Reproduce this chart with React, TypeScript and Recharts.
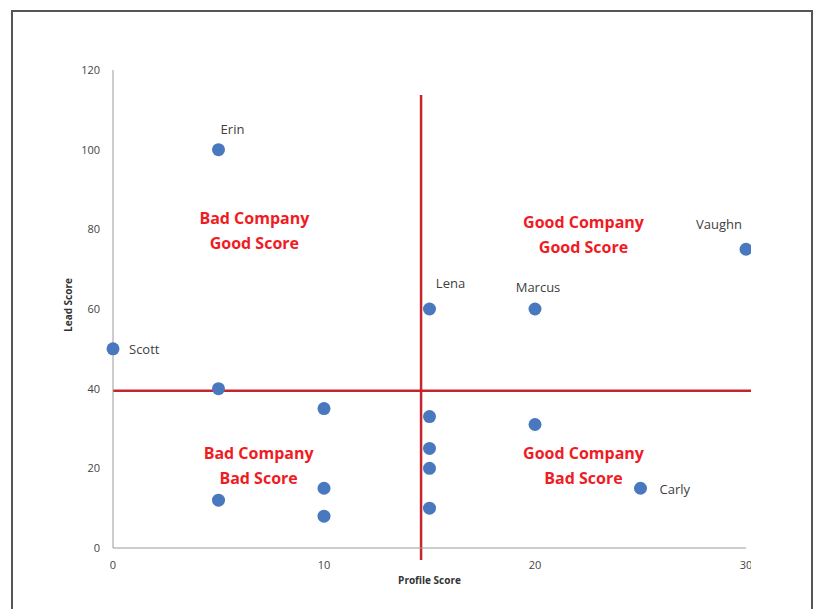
import {
  ScatterChart,
  Scatter,
  XAxis,
  YAxis,
  ReferenceLine,
  ReferenceDot,
  LabelList,
} from 'recharts'

// lead data
const profileScores = [5, 0, 5, 10, 5, 10, 10, 15, 20, 30, 15, 15, 15, 15, 20, 25]
const leadScores = [100, 50, 40, 35, 12, 15, 8, 60, 60, 75, 33, 25, 20, 10, 31, 15]
const leadNames = ['Erin', 'Scott', '', '', '', '', '', 'Lena', 'Marcus', 'Vaughn', '', '', '', '', '', 'Carly']

const xTicks = [0, 10, 20, 30]
const yTicks = [0, 20, 40, 60, 80, 100, 120]

// quadrant dividers
const profileCutoff = 14.6
const leadCutoff = 39.5
const verticalSpan = [-3, 113.7]
const horizontalSpan = [0, 31]

// quadrant captions
const quadrantTop = ['Bad Company', 'Good Company', 'Bad Company', 'Good Company']
const quadrantBottom = ['Good Score', 'Good Score', 'Bad Score', 'Bad Score']
const quadrantX = [6.7, 22.3, 6.9, 22.3]
const quadrantY = [79.6, 78.8, 20.8, 20.8]

const points = profileScores.map((x, i) => ({ x, y: leadScores[i], name: leadNames[i] }))

const LABEL_OFFSETS: Record<string, { dx: number; dy: number; anchor: 'start' | 'middle' | 'end' }> = {
  Erin: { dx: 14, dy: -21, anchor: 'middle' },
  Scott: { dx: 16, dy: 0, anchor: 'start' },
  Lena: { dx: 21, dy: -26, anchor: 'middle' },
  Marcus: { dx: 3, dy: -22, anchor: 'middle' },
  Vaughn: { dx: -27, dy: -25, anchor: 'middle' },
  Carly: { dx: 19, dy: 1, anchor: 'start' },
}

const FONT = '"Open Sans", sans-serif'
const BLUE = '#4a78be'
const RED = '#c4262d'

const renderPointLabel = (props: any) => {
  const { x, y, width, height, value } = props
  if (!value) return null
  const off = LABEL_OFFSETS[value]
  const cx = x + (width || 0) / 2
  const cy = y + (height || 0) / 2
  return (
    <text
      x={cx + off.dx}
      y={cy + off.dy}
      textAnchor={off.anchor}
      dominantBaseline="central"
      fontFamily={FONT}
      fontSize={13}
      fill="#404040"
    >
      {value}
    </text>
  )
}

const renderQuadrant = (i: number) => (props: any) => {
  const vb = props.viewBox || {}
  const cx = vb.x + (vb.width || 0) / 2
  const cy = vb.y + (vb.height || 0) / 2
  return (
    <g fontFamily={FONT} fontSize={16} fontWeight="bold" fill="#f01c24" textAnchor="middle">
      <text x={cx} y={cy - 12.5} dominantBaseline="central">
        {quadrantTop[i]}
      </text>
      <text x={cx} y={cy + 12.5} dominantBaseline="central">
        {quadrantBottom[i]}
      </text>
    </g>
  )
}

const renderYLabel = (props: any) => {
  const vb = props.viewBox || {}
  return (
    <text
      transform={`translate(68, ${vb.y + vb.height / 2 - 4}) rotate(-90)`}
      textAnchor="middle"
      dominantBaseline="central"
      fontFamily={FONT}
      fontSize={10}
      fontWeight="bold"
      fill="#333"
    >
      Lead Score
    </text>
  )
}

const dot = (props: any) => <circle cx={props.cx} cy={props.cy} r={6.5} fill={BLUE} />

export default function App() {
  return (
    <div
      style={{
        position: 'absolute',
        left: 0,
        top: 0,
        width: 819,
        height: 609,
        overflow: 'hidden',
        background: '#fff',
      }}
    >
      {/* frame round the pasted chart */}
      <div
        style={{
          position: 'absolute',
          left: 11,
          top: 10,
          width: 802,
          height: 700,
          border: '2px solid #555',
          boxSizing: 'border-box',
        }}
      />
      {/* the chart image is cut off on the right */}
      <div style={{ position: 'absolute', left: 0, top: 0, width: 751, height: 609, overflow: 'hidden' }}>
        <ScatterChart width={770} height={609} margin={{ top: 70, right: 24, left: 63, bottom: 11 }}>
          <XAxis
            type="number"
            dataKey="x"
            domain={[0, 30]}
            ticks={xTicks}
            tickLine={false}
            tickSize={8}
            tickMargin={5}
            height={50}
            stroke="#9a9a9a"
            tick={{ fill: '#444', fontSize: 11, fontFamily: FONT }}
            label={{
              value: 'Profile Score',
              position: 'insideBottom',
              offset: 14,
              style: { fontFamily: FONT, fontSize: 10, fontWeight: 'bold', fill: '#333' },
            }}
          />
          <YAxis
            type="number"
            dataKey="y"
            domain={[0, 120]}
            ticks={yTicks}
            tickLine={false}
            tickSize={8}
            tickMargin={5}
            width={50}
            stroke="#9a9a9a"
            tick={{ fill: '#444', fontSize: 11, fontFamily: FONT }}
            label={renderYLabel}
          />
          <ReferenceLine
            segment={[
              { x: horizontalSpan[0], y: leadCutoff },
              { x: horizontalSpan[1], y: leadCutoff },
            ]}
            stroke={RED}
            strokeWidth={2.5}
            ifOverflow="visible"
          />
          <ReferenceLine
            segment={[
              { x: profileCutoff, y: verticalSpan[0] },
              { x: profileCutoff, y: verticalSpan[1] },
            ]}
            stroke={RED}
            strokeWidth={2.5}
            ifOverflow="visible"
          />
          {quadrantX.map((qx, i) => (
            <ReferenceDot
              key={i}
              x={qx}
              y={quadrantY[i]}
              r={0}
              stroke="none"
              fill="none"
              ifOverflow="visible"
              label={renderQuadrant(i)}
            />
          ))}
          <Scatter data={points} shape={dot} isAnimationActive={false}>
            <LabelList dataKey="name" content={renderPointLabel} />
          </Scatter>
        </ScatterChart>
      </div>
    </div>
  )
}
